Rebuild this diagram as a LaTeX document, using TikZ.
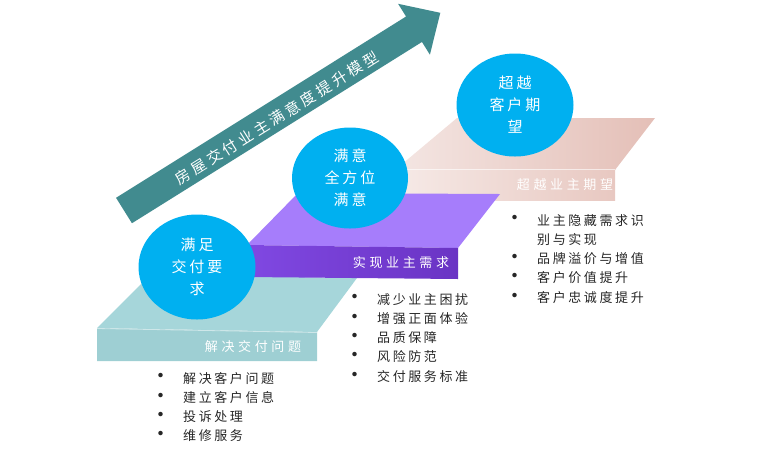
\documentclass[tikz,border=0pt]{standalone}
\usepackage{fontspec}
\setmainfont{Noto Sans CJK SC}
\usetikzlibrary{shapes.geometric}
\definecolor{arrowc}{HTML}{418B8F}
\definecolor{cblue}{HTML}{00B0F0}
\definecolor{tealtop}{HTML}{A6D6DA}
\definecolor{tealfront}{HTML}{9ECFD3}
\definecolor{purtop}{HTML}{A67DFB}
\definecolor{purfrontL}{HTML}{8048E2}
\definecolor{purfrontR}{HTML}{6A34C4}
\definecolor{pinkL}{HTML}{F4E6E3}
\definecolor{pinkR}{HTML}{E4BFB7}
\definecolor{pinkFL}{HTML}{F6EAE7}
\definecolor{pinkFR}{HTML}{E8C8C1}
\definecolor{listc}{HTML}{262626}
\newcommand{\lsp}[1]{\addfontfeature{LetterSpace=#1}}
\newcommand{\bul}{\makebox[26pt][l]{\makebox[8pt]{\raisebox{-0.8pt}{\fontsize{21}{21}\selectfont •}}}}
\begin{document}
\begin{tikzpicture}[x=1pt,y=-1pt,
  bubble/.style={ellipse, fill=cblue, inner sep=0pt, text=white, align=center,
    font=\fontsize{15}{22}\selectfont\lsp{20}},
  facelabel/.style={text=white, inner sep=0pt, font=\fontsize{13}{16}\selectfont\lsp{28}},
  itemlist/.style={anchor=north west, inner sep=0pt, text=listc,
    font=\fontsize{13}{19.3}\selectfont\lsp{20}},
  arrowlabel/.style={text=white, inner sep=0pt, rotate=32, font=\fontsize{15}{18}\selectfont\lsp{23}}
]
\useasboundingbox (0,0) rectangle (760,451);

% pink platform
\shade[left color=pinkL, right color=pinkR] (395,170) -- (615,170) -- (655,118) -- (457,118) -- cycle;
\shade[left color=pinkFL, right color=pinkFR] (395,169) rectangle (615,200);
\draw[white, opacity=0.6, line width=0.8pt] (395,169.5) -- (615,169.5);

% teal platform
\fill[tealtop] (97,328) -- (317,332) -- (357,278) -- (150,275) -- cycle;
\fill[tealfront] (97,328) -- (317,332) -- (317,361) -- (97,361) -- cycle;
\draw[white, opacity=0.5, line width=0.8pt] (97,328.5) -- (317,332.5);

% purple platform
\fill[purtop] (247,245) -- (458,248) -- (500,194) -- (298,193) -- cycle;
\shade[left color=purfrontL, right color=purfrontR] (247,245) -- (458,248) -- (458,279) -- (247,277) -- cycle;

% arrow
\fill[arrowc] (116.05,197.78) -- (406.05,16.52) -- (398.1,3.8) -- (440.3,12.8)
  -- (429.9,54.7) -- (421.95,41.96) -- (131.95,223.22) -- cycle;
\node[arrowlabel] (title) at (277,118) {房屋交付业主满意度提升模型};

% circles
\node[bubble, minimum width=117pt, minimum height=105pt] (c1) at (197,267) {满足\\交付要\\求};
\node[bubble, minimum width=116pt, minimum height=101pt] (c2) at (350,178) {满意\\全方位\\满意};
\node[bubble, minimum width=117pt, minimum height=103pt] (c3) at (515,105) {超越\\客户期\\望};

% face labels
\node[facelabel] (lab1) at (253,347) {解决交付问题};
\node[facelabel] (lab2) at (401,263) {实现业主需求};
\node[facelabel] (lab3) at (565,185) {超越业主期望};

% lists
\node[itemlist] (list1) at (157,369.3) {\begin{tabular}{@{}l@{}l@{}}
\bul & 解决客户问题\\
\bul & 建立客户信息\\
\bul & 投诉处理\\
\bul & 维修服务
\end{tabular}};
\node[itemlist] (list2) at (351,290.3) {\begin{tabular}{@{}l@{}l@{}}
\bul & 减少业主困扰\\
\bul & 增强正面体验\\
\bul & 品质保障\\
\bul & 风险防范\\
\bul & 交付服务标准
\end{tabular}};
\node[itemlist] (list3) at (511,211.3) {\begin{tabular}{@{}l@{}l@{}}
\bul & 业主隐藏需求识\\
 & 别与实现\\
\bul & 品牌溢价与增值\\
\bul & 客户价值提升\\
\bul & 客户忠诚度提升
\end{tabular}};
\end{tikzpicture}
\end{document}
